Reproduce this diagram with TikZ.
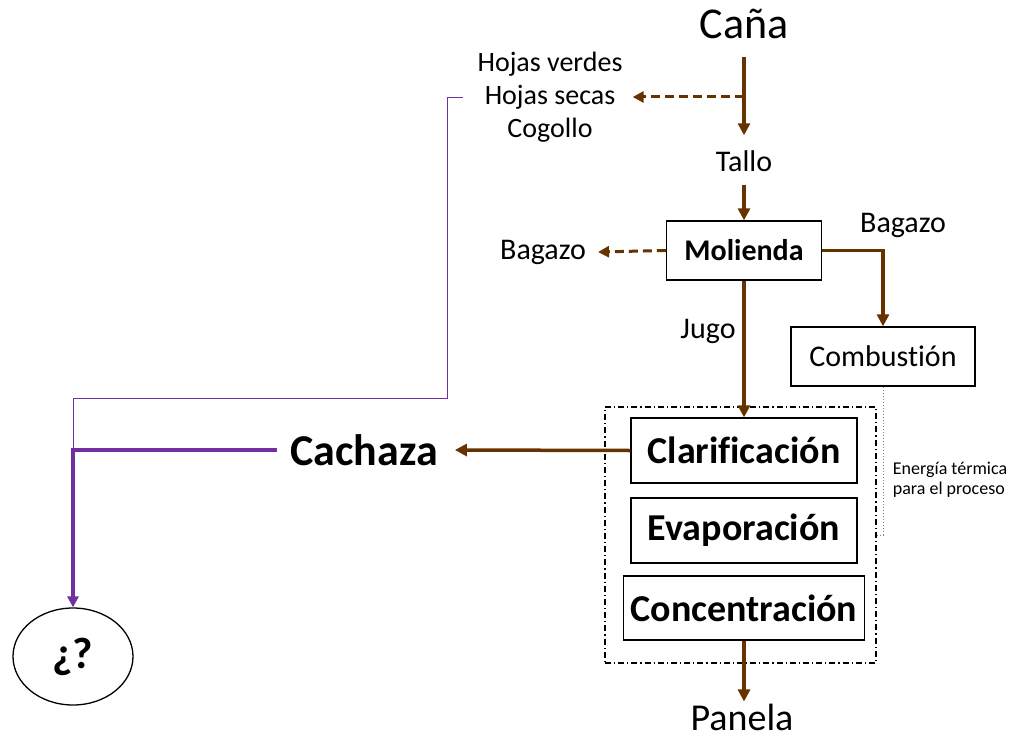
\documentclass[tikz,border=0pt]{standalone}
\usepackage{fontspec}
\setmainfont[Ligatures={NoCommon}]{Carlito}
\usetikzlibrary{arrows.meta,shapes.geometric}
\definecolor{brn}{RGB}{102,51,0}
\definecolor{prp}{RGB}{112,48,160}
\newcommand{\fs}[1]{\fontsize{#1}{#1}\selectfont}
\begin{document}
\begin{tikzpicture}[x=1pt,y=-1pt,
  txt/.style={inner sep=0pt},
  box/.style={draw,line width=1.3pt,inner sep=0pt},
  brA/.style={draw=brn,line width=3.5pt,-{Triangle[length=12pt,width=12pt]}},
  brD/.style={draw=brn,line width=3pt,dash pattern=on 9pt off 5pt,-{Triangle[length=11pt,width=11pt]}},
  prA/.style={draw=prp,line width=3.5pt,-{Triangle[length=11pt,width=11pt]}},
  prT/.style={draw=prp,line width=0.9pt},
  grpbox/.style={draw,line width=1.1pt,dash pattern=on 6pt off 3pt on 1.2pt off 3pt,inner sep=0pt},
  dotl/.style={draw=gray,line width=0.8pt,dash pattern=on 1.5pt off 1.5pt}]
\useasboundingbox (0,0) rectangle (1016,741);

% text nodes
\node[txt,font=\fs{44}] (cana) at (744,24) {Caña};
\node[txt,font=\fs{28},align=center,inner sep=4pt] (hojas) at (550,97) {Hojas verdes\\[5pt]Hojas secas\\[5pt]Cogollo};
\node[txt,font=\fs{30}] (tallo) at (744,161) {Tallo};
\node[txt,font=\fs{30}] (bagL) at (543,252) {Bagazo};
\node[txt,font=\fs{30}] (bagR) at (903,225) {Bagazo};
\node[txt,font=\fs{30}] (jugo) at (708,331) {Jugo};
\node[txt,font=\fs{38}] (panela) at (742,717) {Panela};
\node[txt,font=\bfseries\fs{44}] (cachaza) at (364,450) {Cachaza};
\node[txt,font=\fs{18},align=left] (energia) at (950,480) {Energía térmica\\[2pt]para el proceso};

% boxes
\node[box,font=\bfseries\fs{30},minimum width=155,minimum height=59] (mol) at (744,250.5) {Molienda};
\node[box,font=\fs{30},minimum width=184,minimum height=59] (comb) at (883,356.5) {Combustión};
\node[grpbox,minimum width=271,minimum height=256] (grp) at (740.5,535) {};
\node[box,font=\bfseries\fs{38},minimum width=226,minimum height=65] (clar) at (744,450.5) {Clarificación};
\node[box,font=\bfseries\fs{38},minimum width=226,minimum height=65] (evap) at (744,530.5) {Evaporación};
\node[box,font=\bfseries\fs{38},minimum width=241,minimum height=64] (conc) at (744,608) {Concentración};
\node[draw,ellipse,line width=1.3pt,inner sep=0pt,minimum width=120,minimum height=97,font=\bfseries\fs{44}] (q) at (73,656.5) {¿?};

% coordinates
\coordinate (j1) at (744,97);
\coordinate (pj) at (73,450);

% connectors
\draw[brA] (cana.south) ++(0,18) -- ([yshift=15pt]tallo.north);
\draw[brD] (j1) -- ([xshift=6pt]hojas.east);
\draw[brA] ([yshift=-13pt]tallo.south) -- (mol.north);
\draw[brD] (mol.west) -- ([xshift=12pt]bagL.east);
\draw[brA] (mol.east) -| (comb.north);
\draw[brA] (mol.south) -- (clar.north);
\draw[brA] (clar.west) -- ([xshift=17pt]cachaza.east);
\draw[brA] (conc.south) -- ([yshift=2pt]conc.south |- panela.north);
\draw[prA] ([xshift=-13pt]cachaza.west) -| (q.north);
\draw[prT] ([xshift=-10pt]hojas.west) -- (447,97) -- (447,398) -| (pj);
\draw[dotl] (comb.south) |- (grp.east |- 0,535);
\end{tikzpicture}
\end{document}
